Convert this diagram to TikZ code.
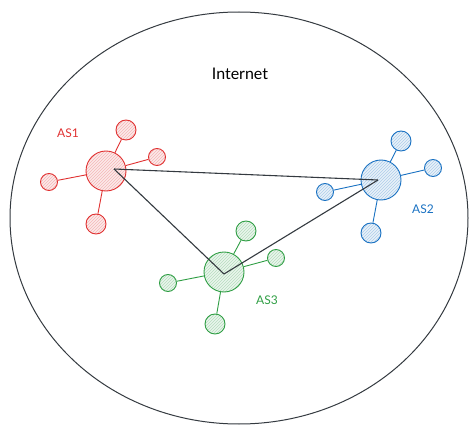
\documentclass[tikz,border=0pt]{standalone}
\usepackage{fontspec}
\setmainfont{Lato}
\usetikzlibrary{patterns}
\definecolor{asred}{HTML}{E03131}
\definecolor{asblue}{HTML}{1971C2}
\definecolor{asgreen}{HTML}{2F9E44}
\definecolor{linkgray}{HTML}{343A40}
\tikzset{
  hub/.style={circle, draw=#1, line width=0.9pt, minimum size=40pt, inner sep=0pt,
    preaction={fill=#1!10}, pattern=north east lines, pattern color=#1!35},
  sat/.style={circle, draw=#1, line width=0.9pt, minimum size=20pt, inner sep=0pt,
    preaction={fill=#1!10}, pattern=north east lines, pattern color=#1!35},
  ssat/.style={sat=#1, minimum size=17pt},
  spoke/.style={draw=#1, line width=0.9pt},
  link/.style={draw=linkgray, line width=1.1pt},
  aslabel/.style={text=#1, font=\fontsize{12}{14}\selectfont},
}
\begin{document}
\begin{tikzpicture}[x=1pt,y=-1pt]
\useasboundingbox (0,0) rectangle (474,433);
\draw[linkgray, line width=1pt] (239,218) ellipse (229 and 206);
\node[font=\fontsize{16}{19}\selectfont, text=black] (inet) at (240,74) {Internet};

% AS1
\node[hub=asred] (h1) at (106,171) {};
\node[sat=asred] (s1a) at (126,130) {};
\node[ssat=asred] (s1b) at (157,157) {};
\node[ssat=asred] (s1c) at (49,182) {};
\node[sat=asred] (s1d) at (96,224) {};
\foreach \s in {s1a,s1b,s1c,s1d} \draw[spoke=asred] (h1) -- (\s);
\node[aslabel=asred] (l1) at (68,133) {AS1};

% AS2
\node[hub=asblue] (h2) at (381,180) {};
\node[sat=asblue] (s2a) at (401,141) {};
\node[ssat=asblue] (s2b) at (433,168) {};
\node[ssat=asblue] (s2c) at (325,192) {};
\node[sat=asblue] (s2d) at (371,233) {};
\foreach \s in {s2a,s2b,s2c,s2d} \draw[spoke=asblue] (h2) -- (\s);
\node[aslabel=asblue] (l2) at (423,209) {AS2};

% AS3
\node[hub=asgreen] (h3) at (224,272) {};
\node[sat=asgreen] (s3a) at (246,231) {};
\node[ssat=asgreen] (s3b) at (276,258) {};
\node[ssat=asgreen] (s3c) at (168,283) {};
\node[sat=asgreen] (s3d) at (215,324) {};
\foreach \s in {s3a,s3b,s3c,s3d} \draw[spoke=asgreen] (h3) -- (\s);
\node[aslabel=asgreen] (l3) at (267,300) {AS3};

% links
\coordinate (c1) at ([xshift=8pt,yshift=2pt]h1.center);
\coordinate (c2) at ([xshift=-3pt]h2.center);
\coordinate (c3) at ([yshift=-2pt]h3.center);
\draw[link] (c1) -- (c2);
\draw[link] (c1) -- (c3);
\draw[link] (c3) -- (c2);
\end{tikzpicture}
\end{document}
